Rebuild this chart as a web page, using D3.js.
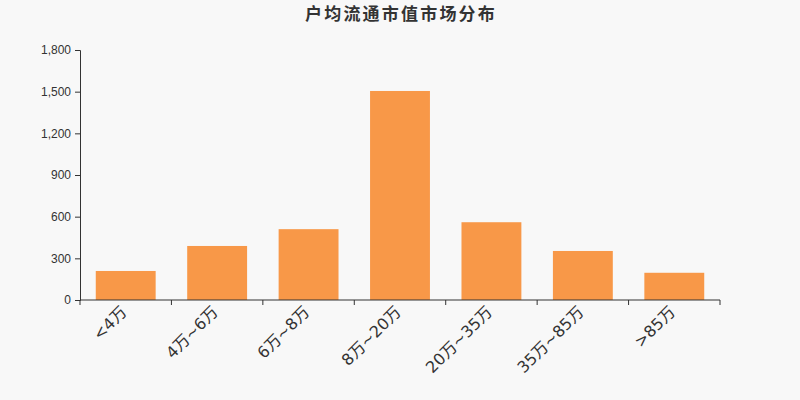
<!DOCTYPE html>
<html>
<head>
<meta charset="utf-8">
<script src="https://cdn.jsdelivr.net/npm/d3@7"></script>
<style>
body { margin: 0; background: #f8f8f8; }
svg { display: block; font-family: "DejaVu Sans", "Noto Sans CJK SC", sans-serif; }
</style>
</head>
<body>
<div id="viz"></div>
<script>
// chart data
var categories = ["<4万", "4万~6万", "6万~8万", "8万~20万", "20万~35万", "35万~85万", ">85万"];
var values = [209, 389, 510, 1505, 560, 353, 196];
var yTicks = [0, 300, 600, 900, 1200, 1500, 1800];
var title = "户均流通市值市场分布";

var width = 800, height = 400;
var margin = {top: 50, right: 80, bottom: 100, left: 80};

var svg = d3.select("#viz")
	.append("svg")
	.attr("width", width)
	.attr("height", height);

svg.append("rect")
	.attr("width", width)
	.attr("height", height)
	.attr("fill", "#f8f8f8");

svg.append("text")
	.attr("x", width / 2 + 1)
	.attr("y", 20)
	.attr("text-anchor", "middle")
	.style("font-family", "'Noto Sans CJK SC', sans-serif")
	.style("font-size", "17px")
	.style("font-weight", "bold")
	.style("letter-spacing", "2.2px")
	.style("fill", "#333")
	.text(title);

var x = d3.scaleBand()
	.domain(categories)
	.range([margin.left, width - margin.right])
	.padding(0);

var y = d3.scaleLinear()
	.domain([0, 1800])
	.range([height - margin.bottom, margin.top]);

var barWidth = x.bandwidth() * 0.655;

svg.selectAll("rect.bar")
	.data(values)
	.enter()
	.append("rect")
	.attr("class", "bar")
	.attr("x", function(d, i){ return x(categories[i]) + (x.bandwidth() - barWidth) / 2; })
	.attr("y", function(d){ return y(d); })
	.attr("width", barWidth)
	.attr("height", function(d){ return y(0) - y(d); })
	.attr("fill", "#f89848");

// y axis
var yAxis = svg.append("g")
	.attr("transform", "translate(" + margin.left + ",0)")
	.call(d3.axisLeft(y).tickValues(yTicks).tickSize(5).tickPadding(4).tickFormat(d3.format(",")));
yAxis.select(".domain").attr("stroke", "#333");
yAxis.selectAll(".tick line").attr("stroke", "#333");
yAxis.selectAll(".tick text")
	.style("font-size", "12px")
	.style("fill", "#333");

// x axis: ticks sit on band boundaries
var xAxis = svg.append("g")
	.attr("transform", "translate(0," + y(0) + ")");
xAxis.append("line")
	.attr("x1", margin.left)
	.attr("x2", width - margin.right)
	.attr("stroke", "#333");
var bounds = categories.map(function(c){ return x(c); }).concat([width - margin.right]);
xAxis.selectAll("line.tick")
	.data(bounds)
	.enter()
	.append("line")
	.attr("class", "tick")
	.attr("x1", function(d){ return d; })
	.attr("x2", function(d){ return d; })
	.attr("y1", 0)
	.attr("y2", 5)
	.attr("stroke", "#333");
xAxis.selectAll("text")
	.data(categories)
	.enter()
	.append("text")
	.attr("transform", function(d){
		return "translate(" + (x(d) + x.bandwidth() / 2 + 2) + ",13) rotate(-45)";
	})
	.attr("text-anchor", "end")
	.style("font-size", "16px")
	.style("fill", "#333")
	.text(function(d){ return d; });
</script>
</body>
</html>
